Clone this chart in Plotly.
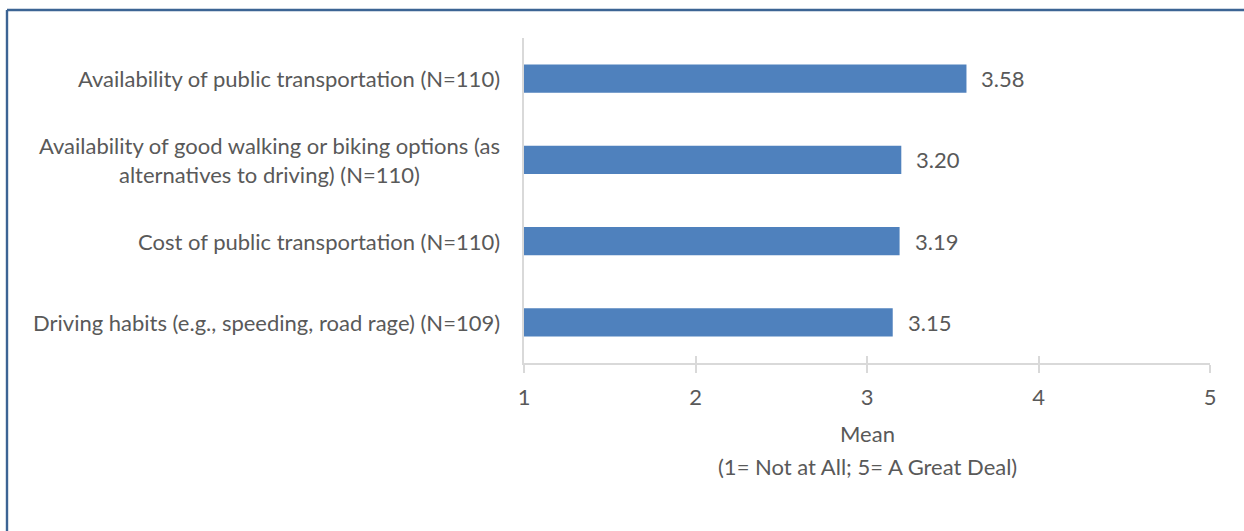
import plotly.graph_objects as go

categories = [
    "Availability of public transportation (N=110)",
    "Availability of good walking or biking options (as<br>alternatives to driving) (N=110)",
    "Cost of public transportation (N=110)",
    "Driving habits (e.g., speeding, road rage) (N=109)",
]
means = [3.58, 3.20, 3.19, 3.15]
x_ticks = [1, 2, 3, 4, 5]
x_title_lines = ["Mean", "(1= Not at All; 5= A Great Deal)"]

FONT = "Lato"
TXT = "#595959"
AX = "#d9d9d9"
BAR = "#4f81bd"
FS = 22

# plot area pixels: x 524..1210, y 38..363
L, R, T, B = 524, 34, 38, 168
W, H = 1244, 531
pw, ph = W - L - R, H - T - B
def px(xp):
    return (xp - L) / pw
def py(yp):
    return (H - B - yp) / ph

fig = go.Figure()
fig.add_trace(go.Bar(
    y=categories, x=[m - 1 for m in means], base=1, orientation="h",
    marker=dict(color=BAR, line=dict(width=0)),
    hoverinfo="skip", xaxis="x", yaxis="y",
))

annotations = []
for c in categories:
    annotations.append(dict(
        x=0, xref="paper", y=c, yref="y", text=c, showarrow=False,
        xanchor="right", yanchor="middle", align="center", xshift=-22,
        font=dict(family=FONT, size=FS, color=TXT),
    ))
for c, m in zip(categories, means):
    annotations.append(dict(
        x=m, xref="x", y=c, yref="y", text=f"{m:.2f}", showarrow=False,
        xanchor="left", yanchor="middle", xshift=13,
        font=dict(family=FONT, size=FS, color=TXT),
    ))
for line, ypix in zip(x_title_lines, [433, 466]):
    annotations.append(dict(
        x=0.5, xref="paper", y=py(ypix), yref="paper", text=line, showarrow=False,
        xanchor="center", yanchor="middle",
        font=dict(family=FONT, size=FS, color=TXT),
    ))

shapes = [
    dict(type="line", xref="paper", yref="paper", x0=px(7), x1=px(1250), y0=py(10), y1=py(10),
         line=dict(color="#3c6494", width=2.4)),
    dict(type="line", xref="paper", yref="paper", x0=px(7), x1=px(7), y0=py(10), y1=py(540),
         line=dict(color="#3c6494", width=2.4)),
]

fig.update_layout(
    width=W, height=H,
    margin=dict(l=L, r=R, t=T, b=B, pad=0),
    paper_bgcolor="white", plot_bgcolor="white",
    showlegend=False, bargap=0.655,
    font=dict(family=FONT, size=FS, color=TXT),
    xaxis=dict(
        range=[1, 5], tickvals=x_ticks, ticktext=[str(t) for t in x_ticks],
        showgrid=False, zeroline=False, showline=True, linecolor=AX, linewidth=2,
        ticks="outside", ticklen=8, tickwidth=2, tickcolor=AX,
        tickfont=dict(family=FONT, size=FS, color=TXT),
        ticklabelstandoff=6,
    ),
    xaxis2=dict(
        range=[1, 5], tickvals=x_ticks, overlaying="x", anchor="y", side="bottom",
        showgrid=False, zeroline=False, showline=False, showticklabels=False,
        ticks="inside", ticklen=7, tickwidth=2, tickcolor=AX,
    ),
    yaxis=dict(
        type="category", categoryorder="array", categoryarray=categories,
        autorange="reversed", showticklabels=False, ticks="",
        showgrid=False, zeroline=False, showline=True, linecolor=AX, linewidth=2,
    ),
    annotations=annotations, shapes=shapes,
)
fig.add_trace(go.Scatter(x=[1, 5], y=[categories[0], categories[0]], xaxis="x2", yaxis="y",
                         mode="markers", marker=dict(opacity=0), hoverinfo="skip"))
fig.write_html("out.html", config={"displayModeBar": False},
               post_script="document.body.style.margin='0';document.body.style.overflow='hidden';")
